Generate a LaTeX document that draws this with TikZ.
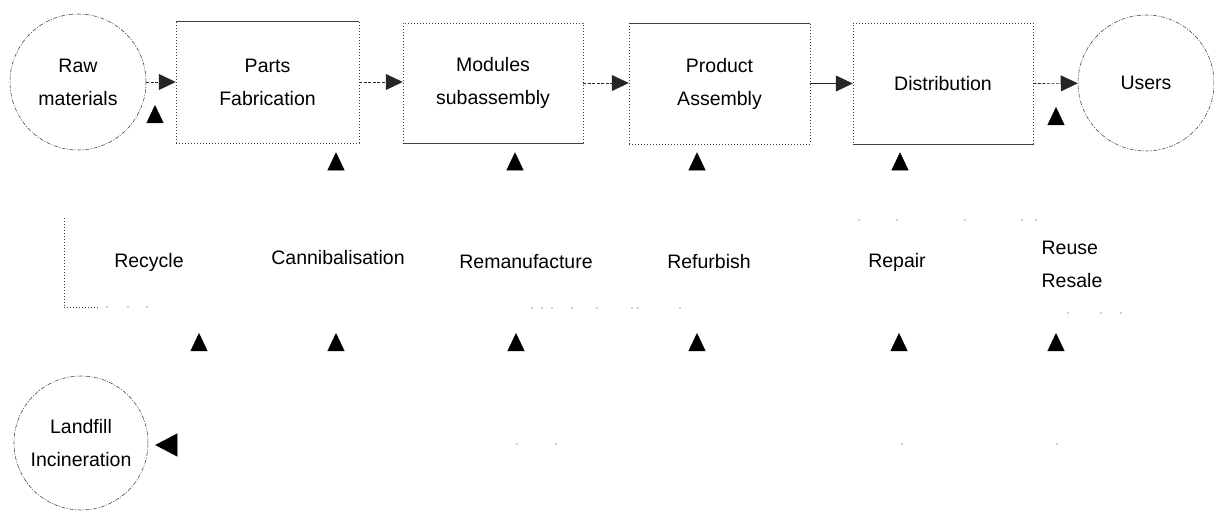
\documentclass[tikz,border=0pt]{standalone}
\usepackage{fontspec}
\setmainfont{Liberation Sans}
\usetikzlibrary{arrows.meta}
\begin{document}
\begin{tikzpicture}[x=1pt,y=-1pt,
  every node/.style={font=\fontsize{19.5}{33}\selectfont, inner sep=0pt, align=center},
  stage/.style={rectangle, draw=black!75, line width=0.5pt, dash pattern=on 0.8pt off 2.2pt},
  ring/.style={circle, draw=black!75, line width=0.55pt, dash pattern=on 4pt off 1.5pt on 1pt off 1.5pt, minimum size=136pt},
  flow/.style={draw=black!85, line width=0.6pt, dash pattern=on 3pt off 1.5pt, -{Triangle[length=17pt,width=16pt]}},
  solidflow/.style={draw=black!85, line width=0.6pt, -{Triangle[length=17pt,width=16pt]}},
  ghost/.style={black, dash pattern=on 0pt off 3000pt, -{Triangle[length=18pt,width=17pt]}},
  bigghost/.style={black, dash pattern=on 0pt off 3000pt, -{Triangle[length=22pt,width=23pt]}},
  speck/.style={fill=black!80}
]
\useasboundingbox (0,0) rectangle (1214,512);

% forward chain
\node[ring] (raw) at (78,82) {Raw\\materials};
\node[stage, minimum width=183pt, minimum height=122pt] (parts) at (267.5,82) {Parts\\Fabrication};
\node[stage, minimum width=180pt, minimum height=120pt] (modules) at (493,83) {Modules\\subassembly};
\node[stage, minimum width=181pt, minimum height=121pt] (product) at (719.5,83.5) {Product\\Assembly};
\node[stage, minimum width=180pt, minimum height=121pt] (distr) at (943,83.5) {Distribution};
\node[ring] (users) at (1146,83) {Users};

% firmer edges of the boxes
\draw[black!75, line width=0.5pt] (parts.north west) -- (parts.north east);
\draw[black!75, line width=0.5pt] (product.north west) -- (product.north east);
\draw[black!75, line width=0.5pt] (modules.south west) -- (modules.south east);
\draw[black!75, line width=0.5pt] (distr.south west) -- (distr.south east);

\draw[flow] (raw) -- (parts);
\draw[flow] (parts.east) -- (parts.east -| modules.west);
\draw[flow] (modules.east) -- (modules.east -| product.west);
\draw[solidflow] (product.east |- distr.west) -- (distr.west);
\draw[flow] (distr.east) -- (users);

% recovery options
\node[minimum width=170pt, minimum height=89pt] (recycle) at (149,262.5) {Recycle};
\node (cannib) at (338,258) {Cannibalisation};
\node (reman) at (526,262) {Remanufacture};
\node (refurb) at (709,262) {Refurbish};
\node (repair) at (897,262) {Repair};
\node[align=left] (reuse) at (1072,264) {Reuse\\Resale};
\node[ring, minimum size=134pt] (landfill) at (81,443) {Landfill\\Incineration};

% remains of the recycle frame
\draw[black!75, line width=0.5pt, dash pattern=on 0.8pt off 2.2pt]
  (recycle.north west) -- (recycle.south west) -- ++(36,0);
\foreach \x in {107,128,147} \fill[speck] (\x,307) circle (0.6pt);
\foreach \x in {532,542,552,572,597,632,638,680} \fill[speck] (\x,308) circle (0.6pt);
\foreach \x in {859,897,965,1022,1036} \fill[speck] (\x,220) circle (0.6pt);
\foreach \x in {1068,1101,1121} \fill[speck] (\x,313) circle (0.6pt);
\foreach \x in {517,556,902,1057} \fill[speck] (\x,444) circle (0.6pt);

% returns into the chain
\coordinate (g0) at (155,218);
\coordinate (g1) at (336,235);
\coordinate (g2) at (515,235);
\coordinate (g3) at (697,235);
\coordinate (g4) at (900,235);
\coordinate (g5) at (1056,228);
\draw[ghost] (g0) -- ([yshift=-23pt]g0 |- raw.east);
\draw[ghost] (g1) -- ([yshift=-9pt]g1 |- parts.south);
\draw[ghost] (g2) -- ([yshift=-9pt]g2 |- modules.south);
\draw[ghost] (g3) -- ([yshift=-8pt]g3 |- product.south);
\draw[ghost] (g4) -- ([yshift=-8pt]g4 |- distr.south);
\draw[ghost] (g5) -- ([yshift=-24pt]g5 |- users.center);

% collection line feeding each option
\foreach \x [count=\i] in {199,336,516,697,899,1056} {
  \coordinate (f\i) at (\x,445);
  \coordinate (e\i) at (\x,333);
  \draw[ghost] (f\i) -- (e\i);
}
\coordinate (ret) at (1057,445);
\draw[bigghost, shorten >=7pt] (ret) -- (ret -| landfill.east);
\end{tikzpicture}
\end{document}
